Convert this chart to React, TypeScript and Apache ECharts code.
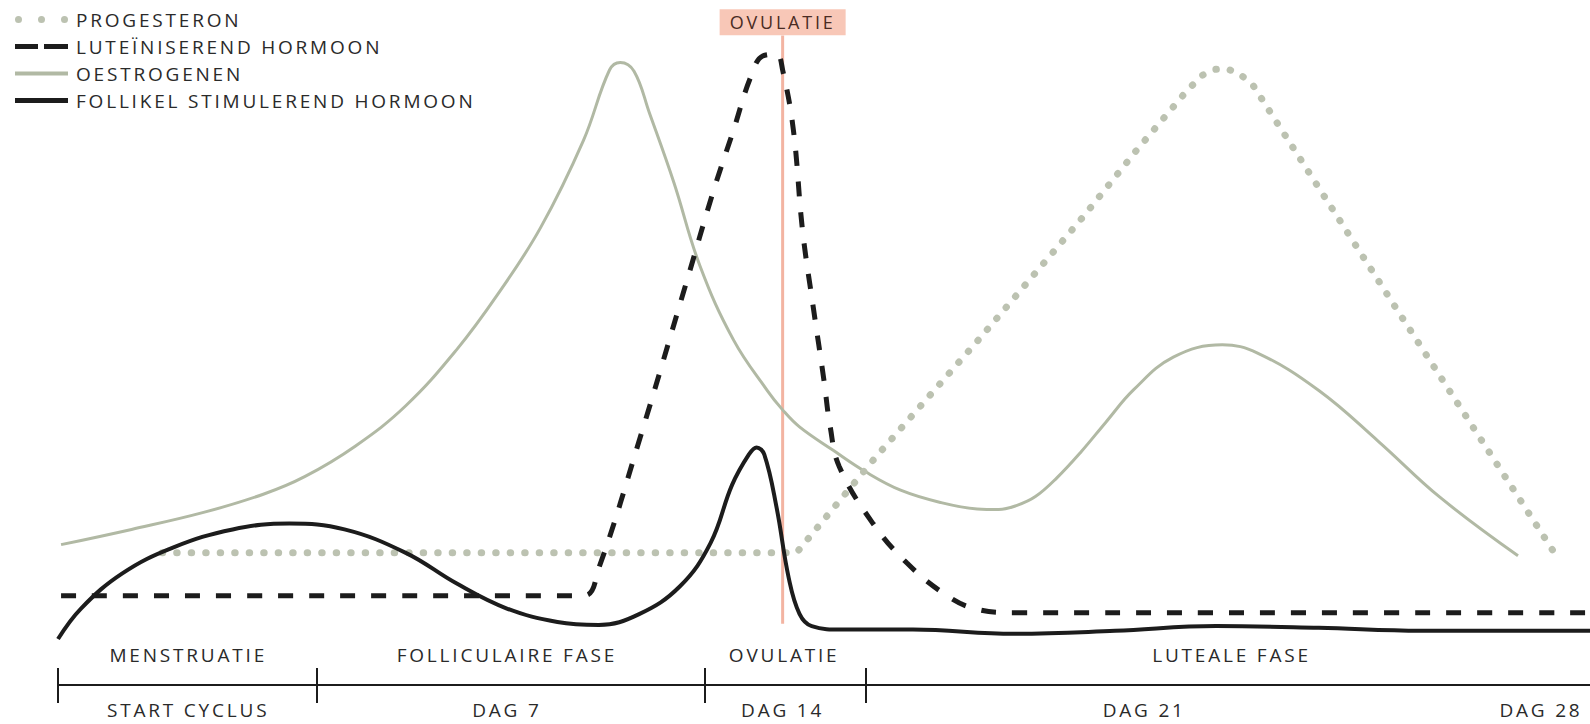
import React, { useEffect, useRef } from "react";
import * as echarts from "echarts";

// x: position along the cycle timeline (0..100), y: relative hormone level (0..100)
const oestrogen: [number, number][] = [
  [0.2, 16.1], [4.8, 18.7], [9.5, 21.6], [13.4, 24.7], [16.1, 27.7], [19.4, 32.9],
  [22.7, 39.8], [26.0, 49.3], [28.7, 58.8], [31.5, 70.2], [34.3, 85.1], [36.0, 97.1],
  [36.7, 98.4], [37.6, 96.9], [38.6, 89.8], [40.2, 77.9], [41.9, 63.7], [44.1, 51.0],
  [46.3, 42.4], [47.3, 39.1], [48.4, 36.2], [50.6, 32.2], [52.8, 28.4], [55.0, 25.4],
  [57.6, 23.3], [60.0, 22.2], [61.4, 22.1], [62.6, 22.8], [63.8, 24.3], [65.2, 27.5],
  [66.8, 32.0], [68.4, 37.0], [70.2, 42.5], [72.8, 48.1], [76.0, 50.2], [78.3, 48.8],
  [82.3, 42.4], [86.2, 33.7], [90.2, 24.2], [95.3, 14.2],
];

const progesteron: [number, number][] = [
  [6.8, 14.7], [48.2, 14.7], [53.3, 30.8], [60.2, 51.4], [66.9, 72.0], [70.4, 83.4],
  [73.7, 93.6], [74.7, 96.2], [75.5, 97.2], [76.3, 97.3], [77.1, 96.5], [78.0, 94.5],
  [87.6, 55.4], [97.8, 14.2],
];

const lh: [number, number][] = [
  [0.2, 7.4], [17.0, 7.4], [34.3, 7.4], [35.3, 12.1], [38.0, 34.4], [41.0, 60.7],
  [42.8, 76.6], [44.1, 86.9], [45.2, 95.8], [46.0, 99.5], [46.9, 99.8], [47.3, 97.1],
  [48.0, 86.9], [48.6, 69.7], [49.3, 56.6], [50.0, 44.1], [50.4, 36.3], [51.0, 29.4],
  [53.2, 19.7], [55.4, 13.0], [57.8, 7.8], [59.8, 5.2], [62.4, 4.5], [80.0, 4.5], [100, 4.5],
];

const fsh: [number, number][] = [
  [0, 0], [1.5, 5.2], [4.2, 11.2], [7.5, 15.6], [11.4, 18.7], [15.1, 19.7], [18.7, 18.7],
  [22.7, 14.7], [26.0, 9.5], [29.3, 5.2], [32.6, 2.9], [35.3, 2.4], [37.9, 4.2],
  [40.6, 9.0], [42.6, 16.4], [44.0, 26.3], [45.1, 31.5], [45.6, 32.7], [46.1, 31.5],
  [46.9, 22.5], [47.7, 10.4], [48.4, 4.3], [49.2, 2.2], [51.2, 1.6], [55.8, 1.6],
  [62.4, 0.9], [69.0, 1.4], [75.6, 2.2], [82.3, 1.9], [89.0, 1.4], [100, 1.4],
];

const ovulationX = 47.3;
const ovulationRange = [103, 2.6];

const phaseBoundaries = [0, 16.9, 42.2, 52.7];
const phaseLabels = ["MENSTRUATIE", "FOLLICULAIRE FASE", "OVULATIE", "LUTEALE FASE"];
const phasePositions = [8.5, 29.3, 47.4, 76.6];
const dayLabels = ["START CYCLUS", "DAG 7", "DAG 14", "DAG 21", "DAG 28"];
const dayPositions = [8.5, 29.3, 47.3, 70.9, 96.8];

const seriesNames = [
  "PROGESTERON",
  "LUTEÏNISEREND HORMOON",
  "OESTROGENEN",
  "FOLLIKEL STIMULEREND HORMOON",
];

const FONT = "'Open Sans', sans-serif";
const GRAY = "#b1b9a4";
const DOT = "#bcc2b1";
const BLACK = "#1c1c1c";
const SALMON = "#f3b4a2";
const TEXT = "#2a2a2a";

const BOX = "M0,0M56,8";
const ICON_DOTS =
  "path://" + BOX +
  "M0,4a3.5,3.5 0 1,0 7,0a3.5,3.5 0 1,0 -7,0z" +
  "M23,4a3.5,3.5 0 1,0 7,0a3.5,3.5 0 1,0 -7,0z" +
  "M46,4a3.5,3.5 0 1,0 7,0a3.5,3.5 0 1,0 -7,0z";
const ICON_DASH = "path://" + BOX + "M0,1.5h23v5h-23zM29,1.5h24v5h-24z";
const ICON_THIN = "path://" + BOX + "M0,2h53v4h-53z";
const ICON_THICK = "path://" + BOX + "M0,1.5h53v5h-53z";

function pick(labels: string[], positions: number[], v: number) {
  const i = positions.findIndex((p) => Math.abs(p - v) < 0.05);
  return i >= 0 ? labels[i] : "";
}

export default function App() {
  const ref = useRef<HTMLDivElement>(null);
  useEffect(() => {
    if (!ref.current) return;
    const chart = echarts.init(ref.current, undefined, { renderer: "svg" });
    const grid = { left: 58, right: 0, top: 53, bottom: 85 };
    chart.setOption({
      animation: false,
      backgroundColor: "#ffffff",
      grid: [grid, { ...grid }],
      legend: {
        orient: "vertical",
        left: 10,
        top: 5,
        padding: 5,
        itemWidth: 56,
        itemHeight: 8,
        itemGap: 8,
        selectedMode: false,
        textStyle: { fontSize: 19, color: TEXT, fontFamily: FONT },
        data: [
          { name: seriesNames[0], icon: ICON_DOTS, itemStyle: { color: DOT } },
          { name: seriesNames[1], icon: ICON_DASH, itemStyle: { color: BLACK } },
          { name: seriesNames[2], icon: ICON_THIN, itemStyle: { color: GRAY } },
          { name: seriesNames[3], icon: ICON_THICK, itemStyle: { color: BLACK } },
        ],
      },
      xAxis: [
        {
          type: "value",
          gridIndex: 0,
          min: 0,
          max: 100,
          position: "bottom",
          offset: 46,
          splitLine: { show: false },
          axisLine: { show: true, onZero: false, lineStyle: { color: BLACK, width: 2 } },
          axisTick: {
            show: true,
            customValues: phaseBoundaries,
            length: 18,
            lineStyle: { color: BLACK, width: 2 },
          },
          axisLabel: {
            show: true,
            customValues: dayPositions,
            formatter: (v: number) => pick(dayLabels, dayPositions, v),
            margin: 15,
            fontSize: 19,
            color: TEXT,
            fontFamily: FONT,
          },
        },
        {
          type: "value",
          gridIndex: 1,
          min: 0,
          max: 100,
          position: "bottom",
          offset: 46,
          splitLine: { show: false },
          axisLine: { show: false, onZero: false },
          axisTick: {
            show: true,
            inside: true,
            customValues: phaseBoundaries,
            length: 17,
            lineStyle: { color: BLACK, width: 2 },
          },
          axisLabel: {
            show: true,
            inside: true,
            customValues: phasePositions,
            formatter: (v: number) => pick(phaseLabels, phasePositions, v),
            margin: 21,
            fontSize: 19,
            color: TEXT,
            fontFamily: FONT,
          },
        },
      ],
      yAxis: [
        { type: "value", gridIndex: 0, min: 0, max: 100, show: false },
        { type: "value", gridIndex: 1, min: 0, max: 100, show: false },
      ],
      series: [
        {
          name: "Ovulatie",
          type: "line",
          z: 1,
          clip: false,
          symbol: "circle",
          symbolSize: 0.1,
          itemStyle: { color: SALMON },
          lineStyle: { color: SALMON, width: 3 },
          data: [
            {
              value: [ovulationX, ovulationRange[0]],
              label: {
                show: true,
                position: "top",
                distance: 0,
                formatter: "OVULATIE",
                backgroundColor: "#f8c7b7",
                width: 104,
                align: "center",
                padding: [4, 11, 4, 11],
                fontSize: 18,
                lineHeight: 18,
                color: "#4a2c24",
                fontFamily: FONT,
              },
            },
            { value: [ovulationX, ovulationRange[1]] },
          ],
        },
        {
          name: seriesNames[2],
          type: "line",
          z: 2,
          smooth: 0.4,
          symbol: "none",
          clip: false,
          itemStyle: { color: GRAY },
          lineStyle: { color: GRAY, width: 3 },
          data: oestrogen,
        },
        {
          name: seriesNames[0],
          type: "line",
          z: 3,
          smooth: false,
          symbol: "none",
          clip: false,
          itemStyle: { color: DOT },
          lineStyle: { color: DOT, width: 7, type: [0.5, 14], cap: "round" },
          data: progesteron,
        },
        {
          name: seriesNames[1],
          type: "line",
          z: 4,
          smooth: 0.4,
          symbol: "none",
          clip: false,
          itemStyle: { color: BLACK },
          lineStyle: { color: BLACK, width: 5, type: [15, 16] },
          data: lh,
        },
        {
          name: seriesNames[3],
          type: "line",
          z: 5,
          smooth: 0.4,
          symbol: "none",
          clip: false,
          itemStyle: { color: BLACK },
          lineStyle: { color: BLACK, width: 4 },
          data: fsh,
        },
      ],
    });
    return () => chart.dispose();
  }, []);
  return (
    <div
      ref={ref}
      style={{
        position: "absolute",
        left: 0,
        top: 0,
        width: 1590,
        height: 724,
        letterSpacing: "2.8px",
      }}
    />
  );
}
